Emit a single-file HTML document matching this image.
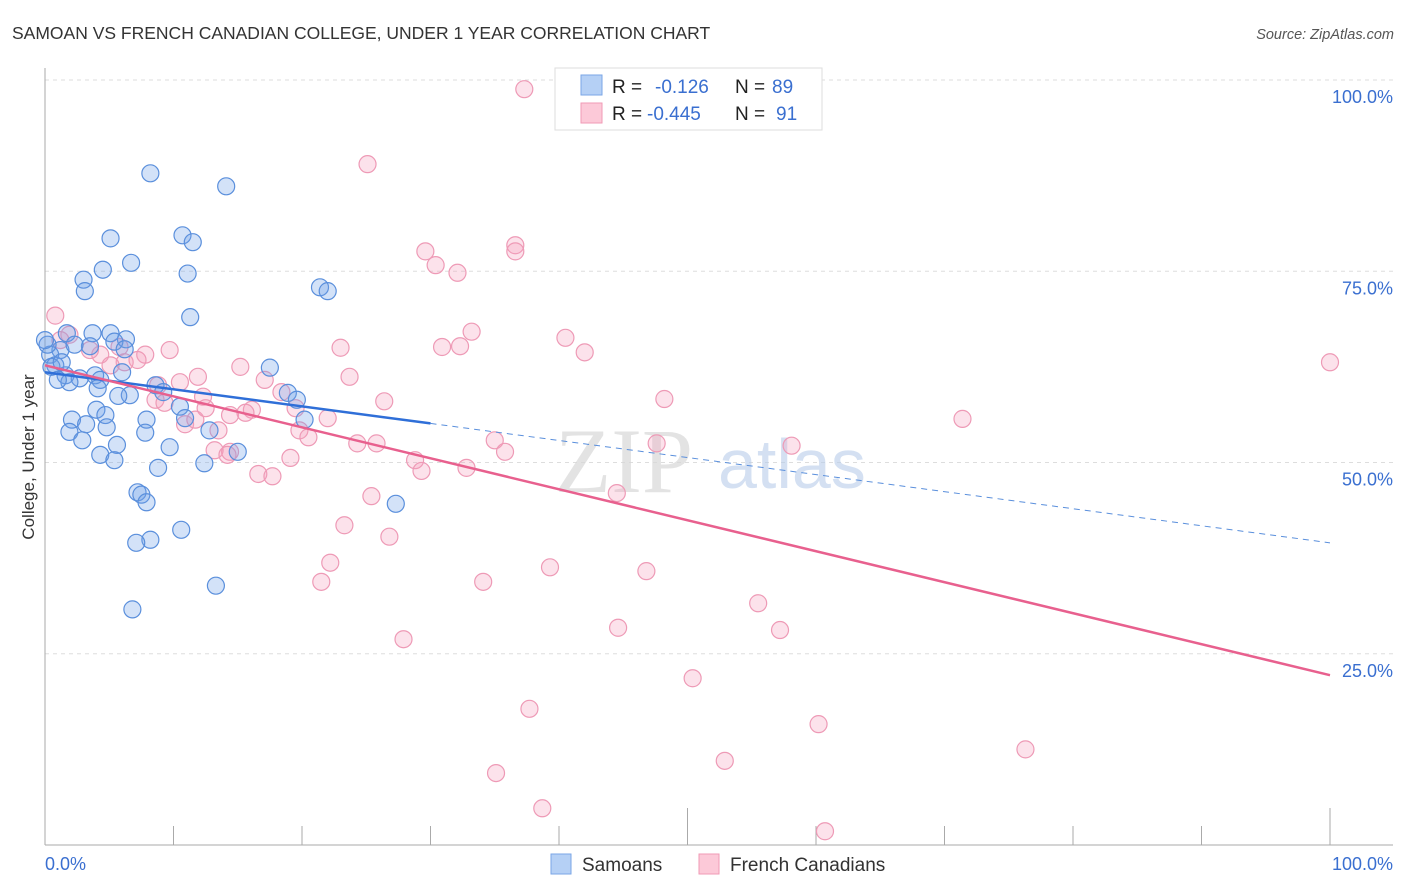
<!DOCTYPE html>
<html><head><meta charset="utf-8"><style>
body{margin:0;background:#fff;font-family:"Liberation Sans",sans-serif}
svg{display:block}
</style></head><body>
<svg id="chart" width="1406" height="892" viewBox="0 0 1406 892">
<text x="12" y="39" font-size="17.5" fill="#333">SAMOAN VS FRENCH CANADIAN COLLEGE, UNDER 1 YEAR CORRELATION CHART</text>
<text x="1394" y="39" font-size="14.5" fill="#555" font-style="italic" text-anchor="end">Source: ZipAtlas.com</text>
<g id="grid"></g>
<g>
<text x="555" y="492" font-size="92" fill="#d8d8d8" font-family="Liberation Serif,serif" opacity="0.7">ZIP</text>
<text x="718" y="488" font-size="70" fill="#b8cdea" opacity="0.6">atlas</text>
</g>
<text transform="translate(34,457) rotate(-90)" font-size="17" fill="#333" text-anchor="middle">College, Under 1 year</text>
<g id="pts"></g>
<g id="lines"></g>
<g>
<rect x="555" y="68" width="267" height="62" fill="#fff" stroke="#ddd"/>
<rect x="581" y="75" width="21" height="20" fill="#b5d0f5" stroke="#7aa6e6"/>
<rect x="581" y="103" width="21" height="20" fill="#fcc9d8" stroke="#f09ab6"/>
<text x="612" y="93" font-size="19" fill="#222">R = </text><text x="655" y="93" font-size="19" fill="#3a6fd0">-0.126</text>
<text x="735" y="93" font-size="19" fill="#222">N = </text><text x="772" y="93" font-size="19" fill="#3a6fd0">89</text>
<text x="612" y="120" font-size="19" fill="#222">R = </text><text x="647" y="120" font-size="19" fill="#3a6fd0">-0.445</text>
<text x="735" y="120" font-size="19" fill="#222">N = </text><text x="776" y="120" font-size="19" fill="#3a6fd0">91</text>
</g>
<g>
<rect x="551" y="854" width="20" height="20" fill="#b5d0f5" stroke="#7aa6e6"/>
<text x="582" y="871" font-size="19" fill="#333">Samoans</text>
<rect x="699" y="854" width="20" height="20" fill="#fcc9d8" stroke="#f09ab6"/>
<text x="730" y="871" font-size="19" fill="#333">French Canadians</text>
</g>
</svg>
<script>
const blueX=[8.2,14.1,5.1,10.7,11.5,6.7,4.5,11.1,3.0,3.1,21.4,22.0,11.3,1.7,3.7,5.1,6.3,3.5,5.4,1.2,2.3,0.4,6.2,17.5,0.8,1.6,2.7,3.9,4.3,1.9,6.0,4.1,8.6,6.6,5.7,9.2,18.9,19.6,10.5,4.0,2.1,4.7,7.9,10.9,20.2,4.8,3.2,1.9,2.9,12.8,7.8,9.7,5.6,4.3,5.4,15.0,8.8,12.4,27.3,7.2,7.5,7.9,10.6,8.2,7.1,13.3,6.8,0.2,0.5,1.3,0,1.0];
const blueY=[87.8,86.1,79.3,79.7,78.8,76.1,75.2,74.7,73.9,72.4,72.9,72.4,69.0,66.9,66.9,66.9,66.1,65.2,65.8,64.7,65.4,64.1,64.8,62.4,62.7,61.4,61.0,61.4,60.8,60.5,61.8,59.7,60.1,58.8,58.7,59.2,59.1,58.2,57.3,56.9,55.6,56.2,55.6,55.8,55.6,54.6,55.0,54.0,52.9,54.2,53.9,52.0,52.3,51.0,50.3,51.4,49.3,49.9,44.6,46.1,45.8,44.8,41.2,39.9,39.5,33.9,30.8,65.4,62.5,63.1,66.0,60.8];
const pinkX=[37.3,25.1,36.6,36.6,29.6,30.4,32.1,0.8,33.2,40.5,30.9,32.3,23.0,42.0,1.9,100,5.8,9.7,7.8,7.2,4.3,15.2,23.7,10.5,8.8,11.9,17.1,8.6,12.3,9.3,26.4,48.2,18.4,19.5,14.4,16.1,10.9,11.7,13.5,15.6,22.0,71.4,19.8,20.5,24.3,25.8,35.0,35.8,47.6,58.1,14.4,13.2,19.1,28.8,29.3,32.8,16.6,17.7,25.4,44.5,23.3,26.8,22.2,39.3,46.8,21.5,34.1,55.5,44.6,57.2,27.9,50.4,37.7,60.2,76.3,52.9,35.1,38.7,60.7,14.2,12.5,6.2,3.5,5.1,1.2];
const pinkY=[98.8,89.0,78.4,77.6,77.6,75.8,74.8,69.2,67.1,66.3,65.1,65.2,65.0,64.4,66.7,63.1,65.1,64.7,64.1,63.4,64.1,62.5,61.2,60.5,60.1,61.2,60.8,58.2,58.6,57.8,58.0,58.3,59.2,57.1,56.2,56.9,55.0,55.6,54.2,56.5,55.8,55.7,54.2,53.3,52.5,52.5,52.9,51.4,52.5,52.2,51.4,51.6,50.6,50.3,48.9,49.3,48.5,48.2,45.6,46.0,41.8,40.3,36.9,36.3,35.8,34.4,34.4,31.6,28.4,28.1,26.9,21.8,17.8,15.8,12.5,11.0,9.4,4.8,1.8,51.0,57.1,63.1,64.7,62.7,66.0];
const blueFit=[61.8,39.5];
const pinkFit=[62.7,22.2];
const yTicks=[25,50,75,100];
const xTicks=[10,20,30,40,50,60,70,80,90,100];
const NS='http://www.w3.org/2000/svg';
const sx=v=>45+v*12.85, sy=v=>845-v*7.65;
function mk(tag,attrs,parent){const e=document.createElementNS(NS,tag);for(const k in attrs)e.setAttribute(k,attrs[k]);parent.appendChild(e);return e;}
const grid=document.getElementById('grid');
yTicks.forEach(t=>{
 const l=mk('line',{x1:45,x2:1393,y1:sy(t),y2:sy(t),stroke:'#ddd','stroke-dasharray':'4,4'},grid);
 
 
 const tx=mk('text',{x:1393,y:sy(t)+23,'font-size':18,fill:'#3a6fd0','text-anchor':'end'},grid);
 tx.textContent=t.toFixed(1)+'%';
 
 
});
const ax=mk('line',{x1:45,x2:45,y1:68,y2:845,stroke:'#aaa'},grid);


const bx=mk('line',{x1:45,x2:1393,y1:845,y2:845,stroke:'#aaa'},grid);


xTicks.forEach((t,i)=>{
 const l=mk('line',{x1:sx(t),x2:sx(t),y1:(t%50===0?808:826),y2:845,stroke:'#aaa'},grid);
 
 
});
const xl0=mk('text',{x:45,y:870,'font-size':18,fill:'#3a6fd0'},grid);xl0.textContent='0.0%';


const xl1=mk('text',{x:1393,y:870,'font-size':18,fill:'#3a6fd0','text-anchor':'end'},grid);xl1.textContent='100.0%';


const pts=document.getElementById('pts');
pinkX.forEach((x,i)=>{
 const c=mk('circle',{cx:sx(x),cy:sy(pinkY[i]),r:8.5,fill:'rgba(244,160,190,0.3)',stroke:'#ee9ab6','stroke-width':1.2},pts);
 
 
});
blueX.forEach((x,i)=>{
 const c=mk('circle',{cx:sx(x),cy:sy(blueY[i]),r:8.5,fill:'rgba(110,160,232,0.3)',stroke:'#5a8fdc','stroke-width':1.2},pts);
 
 
});
const lines=document.getElementById('lines');
const bAt=x=>blueFit[0]+(blueFit[1]-blueFit[0])*x/100, pAt=x=>pinkFit[0]+(pinkFit[1]-pinkFit[0])*x/100;
const l1=mk('line',{x1:sx(0),y1:sy(bAt(0)),x2:sx(30),y2:sy(bAt(30)),stroke:'#2f6fd8','stroke-width':2.5},lines);


const l2=mk('line',{x1:sx(30),y1:sy(bAt(30)),x2:sx(100),y2:sy(bAt(100)),stroke:'#5a8fdc','stroke-width':1,'stroke-dasharray':'6,5'},lines);


const l3=mk('line',{x1:sx(0),y1:sy(pAt(0)),x2:sx(100),y2:sy(pAt(100)),stroke:'#e8608e','stroke-width':2.5},lines);


</script>
</body></html>
